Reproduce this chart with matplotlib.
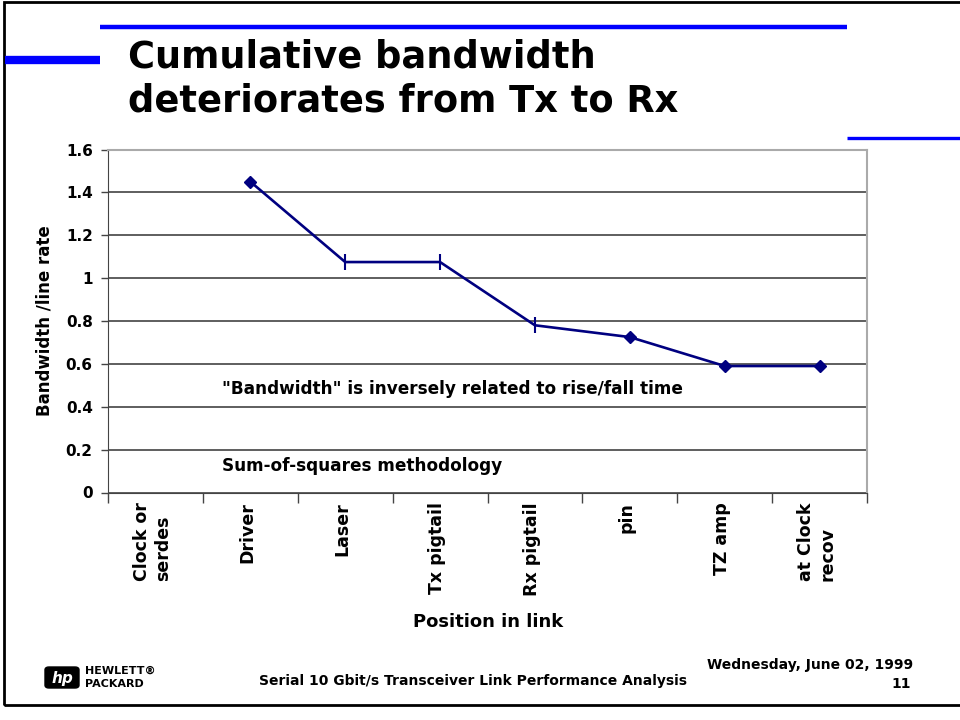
import numpy as np
import matplotlib
matplotlib.use("Agg")
import matplotlib.pyplot as plt
from matplotlib.patches import Rectangle, FancyBboxPatch
from matplotlib.lines import Line2D

categories = ["Clock or\nserdes", "Driver", "Laser", "Tx pigtail",
              "Rx pigtail", "pin", "TZ amp", "at Clock\nrecov"]
# no value at the first position
bandwidth = [np.nan, 1.45, 1.075, 1.075, 0.78, 0.725, 0.59, 0.59]
markers = [None, "D", "|", "|", "|", "D", "D", "D"]
yticks = [0, 0.2, 0.4, 0.6, 0.8, 1, 1.2, 1.4, 1.6]

NAVY = "#000080"
BLUE = "#0000ff"
cond = ["DejaVu Sans"]
body = ["DejaVu Sans"]

fig = plt.figure(figsize=(9.6, 7.2), dpi=100)

# slide frame
fig.add_artist(Rectangle((4 / 960, 1 - 705 / 720), 1.2, 703 / 720,
                         transform=fig.transFigure, fill=False,
                         edgecolor="black", linewidth=2))

# decorative blue bars
def hbar(x0, x1, y, lw):
    fig.add_artist(Line2D([x0 / 960, x1 / 960], [1 - y / 720, 1 - y / 720],
                          transform=fig.transFigure, color=BLUE,
                          linewidth=lw, solid_capstyle="butt"))

hbar(100, 847, 27, 3.2)
hbar(5, 100, 60, 6.0)
hbar(847, 960, 138, 2.4)

fig.text(128 / 960, 1 - 67 / 720, "Cumulative bandwidth", fontsize=26.5,
         fontweight="bold", family=cond, va="baseline")
fig.text(128 / 960, 1 - 112 / 720, "deteriorates from Tx to Rx",
         fontsize=26.5, fontweight="bold", family=cond, va="baseline")

ax = fig.add_axes([108 / 960, 1 - 492.5 / 720, 759 / 960, 343 / 720])
x = np.arange(len(categories))
ax.plot(x, bandwidth, color=NAVY, linewidth=1.9, zorder=3)
for xi, yi, m in zip(x, bandwidth, markers):
    if m is None:
        continue
    if m == "D":
        ax.plot(xi, yi, marker="D", markersize=6.5, color=NAVY, zorder=4)
    else:
        ax.plot(xi, yi, marker="|", markersize=11, markeredgewidth=1.5,
                color=NAVY, zorder=4)

ax.set_xlim(-0.5, len(categories) - 0.5)
ax.set_ylim(0, 1.6)
ax.set_yticks(yticks)
ax.set_yticklabels([f"{v:g}" for v in yticks], fontsize=11,
                   fontweight="bold", family=body)
ax.yaxis.grid(True, color="#333333", linewidth=1.1)
ax.set_axisbelow(True)

ax.set_xticks(np.arange(len(categories) + 1) - 0.5)
ax.set_xticklabels([])
ax.tick_params(axis="x", length=7, width=1, color="#444444", direction="out")
ax.tick_params(axis="y", length=5, width=1, color="#444444", direction="out",
               pad=6)
for xi, lab in zip(x, categories):
    ax.text(xi - 0.03, -0.045, lab, rotation=90, ha="center", va="top",
            fontsize=12.5, fontweight="bold", family=body,
            multialignment="left", linespacing=1.25)

ax.spines["top"].set_color("#aaaaaa")
ax.spines["right"].set_color("#aaaaaa")
ax.spines["top"].set_linewidth(1.5)
ax.spines["right"].set_linewidth(1.5)
ax.spines["left"].set_color("#444444")
ax.spines["bottom"].set_color("#444444")

ax.text(0.70, 0.483, '"Bandwidth" is inversely related to rise/fall time',
        fontsize=12.2, fontweight="bold", family=body, va="center")
ax.text(0.70, 0.124, "Sum-of-squares methodology",
        fontsize=12.2, fontweight="bold", family=body, va="center")

fig.text(45 / 960, 1 - 321 / 720, "Bandwidth /line rate", rotation=90,
         ha="center", va="center", fontsize=12, fontweight="bold",
         family=body)
fig.text(488 / 960, 1 - 622 / 720, "Position in link", ha="center",
         va="center", fontsize=13, fontweight="bold", family=cond)

# footer
fig.text(473 / 960, 1 - 681 / 720,
         "Serial 10 Gbit/s Transceiver Link Performance Analysis",
         ha="center", va="center", fontsize=10, fontweight="bold",
         family=cond)
fig.text(913 / 960, 1 - 665 / 720, "Wednesday, June 02, 1999", ha="right",
         va="center", fontsize=10, fontweight="bold", family=cond)
fig.text(911 / 960, 1 - 684 / 720, "11", ha="right", va="center",
         fontsize=10, fontweight="bold", family=cond)

# HP logo
fig.add_artist(FancyBboxPatch((45 / 960, 1 - 688 / 720), 34 / 960, 21 / 720,
                              boxstyle="round,pad=0,rounding_size=0.004",
                              transform=fig.transFigure, facecolor="black",
                              edgecolor="black"))
fig.text(62 / 960, 1 - 678 / 720, "hp", color="white", fontsize=11,
         fontweight="bold", style="italic", ha="center", va="center",
         family=body)
fig.text(85 / 960, 1 - 671 / 720, "HEWLETT\u00ae", fontsize=8,
         fontweight="bold", va="center", family=body)
fig.text(85 / 960, 1 - 684 / 720, "PACKARD", fontsize=8,
         fontweight="bold", va="center", family=body)

fig.savefig("out.png", dpi=100)
